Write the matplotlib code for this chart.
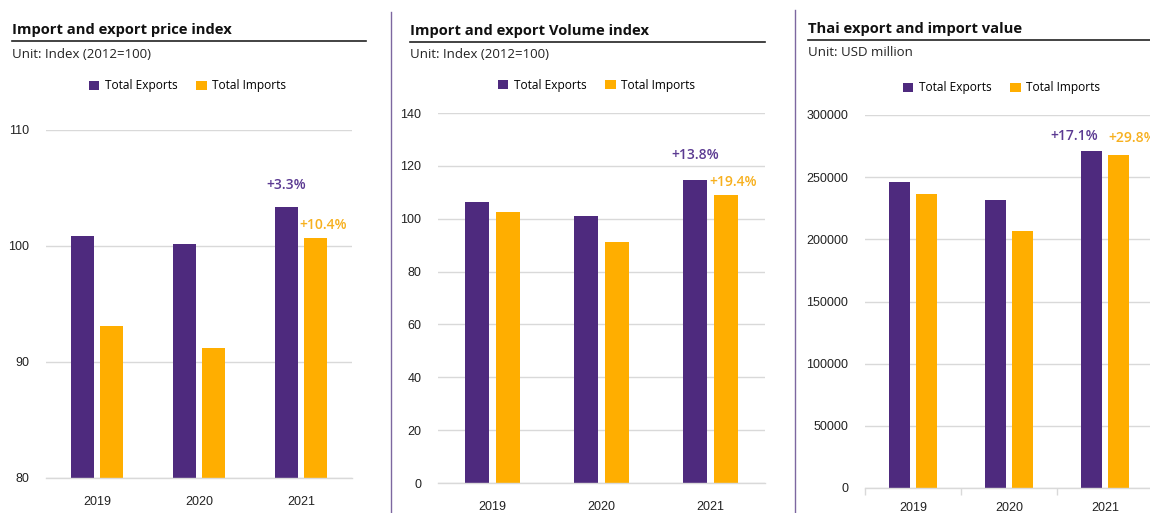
import matplotlib
matplotlib.use("Agg")
import matplotlib.pyplot as plt
from matplotlib.lines import Line2D
from matplotlib.patches import Patch
import numpy as np

years = ["2019", "2020", "2021"]

price_exports = [100.9, 100.2, 103.4]
price_imports = [93.1, 91.2, 100.7]

volume_exports = [106.3, 101.0, 114.6]
volume_imports = [102.5, 91.2, 109.0]

value_exports = [246245, 231634, 271174]
value_imports = [236640, 206992, 267600]

titles = ["Import and export price index", "Import and export Volume index", "Thai export and import value"]
units = ["Unit: Index (2012=100)", "Unit: Index (2012=100)", "Unit: USD million"]
series_names = ["Total Exports", "Total Imports"]
growth_labels = [("+3.3%", "+10.4%"), ("+13.8%", "+19.4%"), ("+17.1%", "+29.8%")]

PURPLE = "#4e2a7e"
ORANGE = "#ffae00"
PURPLE_T = "#5b3a92"
ORANGE_T = "#f7b01e"
GRID = "#d9d9d9"

W, H = 1150, 513
fig = plt.figure(figsize=(W / 100, H / 100), dpi=100)

TXT_FONT = ["Open Sans", "DejaVu Sans"]
TICK_FONT = ["Liberation Sans", "DejaVu Sans"]


def px_axes(left, right, bottom_y, top_y):
    return fig.add_axes([left / W, (H - bottom_y) / H, (right - left) / W, (bottom_y - top_y) / H])


panels = [
    dict(ax=(46, 352, 478, 130), ylim=(80, 110), yticks=[80, 90, 100, 110],
         ex=price_exports, im=price_imports, title_xy=(12, 30), line=(12, 366, 41),
         unit_y=54, leg=(187.5, 86), ann_off=((0, 22), (-5, 13)), xticks_marks=False,
         width=0.225, off=0.142, xpad=13),
    dict(ax=(438, 765, 483, 113), ylim=(0, 140), yticks=list(range(0, 141, 20)),
         ex=volume_exports, im=volume_imports, title_xy=(410, 31), line=(410, 765, 42),
         unit_y=55, leg=(596.5, 85), ann_off=((0, 25), (-4, 13)), xticks_marks=False,
         width=0.22, off=0.14, xpad=13),
    dict(ax=(865, 1153, 488, 115), ylim=(0, 300000), yticks=list(range(0, 300001, 50000)),
         ex=value_exports, im=value_imports, title_xy=(808, 29), line=(808, 1150, 40),
         unit_y=53, leg=(1001.5, 88), ann_off=((-17, 15), (0, 17)), xticks_marks=True,
         width=0.22, off=0.142, xpad=10),
]

x = np.arange(len(years))
for i, p in enumerate(panels):
    l, r, b, t = p["ax"]
    ax = px_axes(l, r, b, t)
    w = p["width"]
    ax.bar(x - p["off"], p["ex"], width=w, color=PURPLE, zorder=3)
    ax.bar(x + p["off"], p["im"], width=w, color=ORANGE, zorder=3)
    ax.set_xlim(-0.5, 2.5)
    ax.set_ylim(*p["ylim"])
    ax.set_yticks(p["yticks"])
    ax.set_yticklabels([str(v) for v in p["yticks"]], fontfamily=TICK_FONT, fontsize=9, color="#222222")
    ax.set_xticks(x)
    ax.set_xticklabels(years, fontfamily=TICK_FONT, fontsize=9, color="#222222")
    ax.tick_params(axis="y", length=0, pad=12)
    ax.tick_params(axis="x", which="major", length=0, pad=p["xpad"])
    if p["xticks_marks"]:
        ax.set_xticks([-0.5, 0.5, 1.5, 2.5], minor=True)
        ax.tick_params(axis="x", which="minor", length=5, color=GRID, width=1)
    ax.yaxis.grid(True, color=GRID, lw=1, zorder=0)
    for s in ["top", "right", "left"]:
        ax.spines[s].set_visible(False)
    ax.spines["bottom"].set_color(GRID)
    ax.spines["bottom"].set_linewidth(1)
    ax.spines["bottom"].set_zorder(4)

    # growth annotations on 2021
    (oex, oim) = p["ann_off"]
    ax.annotate(growth_labels[i][0], xy=(x[2] - p["off"], p["ex"][2]), xytext=oex,
                textcoords="offset pixels", ha="center", va="center", color=PURPLE_T,
                fontsize=10, fontweight="semibold", fontfamily=TXT_FONT, annotation_clip=False)
    ax.annotate(growth_labels[i][1], xy=(x[2] + p["off"] - w / 2, p["im"][2]), xytext=oim,
                textcoords="offset pixels", ha="left", va="center", color=ORANGE_T,
                fontsize=10, fontweight="semibold", fontfamily=TXT_FONT, annotation_clip=False)

    # title, underline, unit
    tx, ty = p["title_xy"]
    fig.text(tx / W, 1 - ty / H, titles[i], ha="left", va="center", fontsize=10.6,
             fontweight="bold", fontfamily=TXT_FONT, color="#111111")
    lx0, lx1, ly = p["line"]
    fig.add_artist(Line2D([lx0 / W, lx1 / W], [1 - ly / H, 1 - ly / H], color="#222222", lw=1.2))
    fig.text(tx / W, 1 - p["unit_y"] / H, units[i], ha="left", va="center", fontsize=9.5,
             fontfamily=TXT_FONT, color="#222222")

    # legend
    handles = [Patch(facecolor=PURPLE, edgecolor="none"), Patch(facecolor=ORANGE, edgecolor="none")]
    lx, ly2 = p["leg"]
    fig.legend(handles, series_names, loc="center", bbox_to_anchor=(lx / W, 1 - ly2 / H), ncol=2,
               frameon=False, handlelength=0.85, handleheight=0.85, handletextpad=0.45,
               columnspacing=1.6, prop={"family": TXT_FONT, "size": 8.6}, borderaxespad=0, borderpad=0)

# separators
for sx, sy in [(391, 12), (795, 10)]:
    fig.add_artist(Line2D([sx / W, sx / W], [0, 1 - sy / H], color="#7d67a0", lw=1))

fig.savefig("out.png", dpi=100)
